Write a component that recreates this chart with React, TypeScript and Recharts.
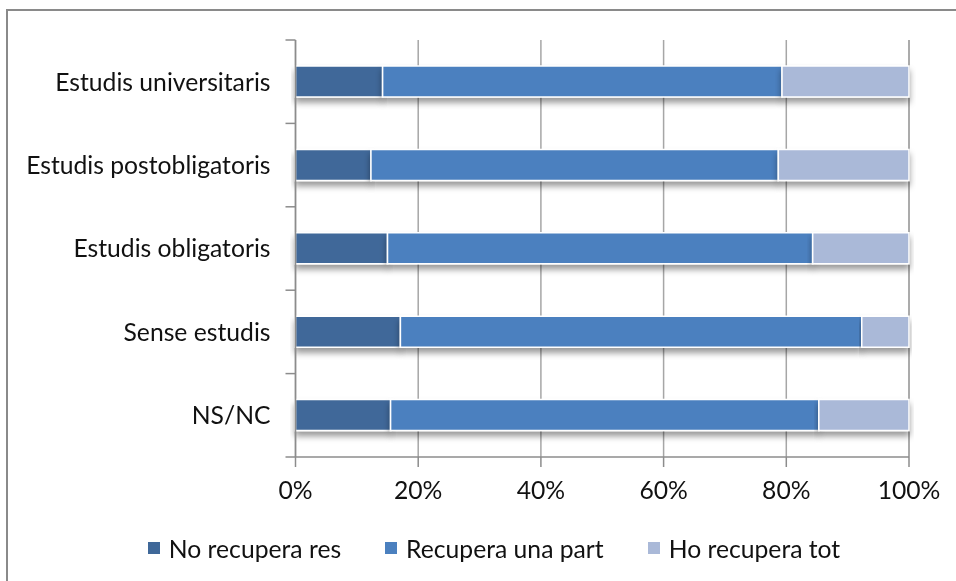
import React from "react";
import {
  BarChart,
  Bar,
  XAxis,
  YAxis,
  CartesianGrid,
  Legend,
} from "recharts";

const categories = [
  "Estudis universitaris",
  "Estudis postobligatoris",
  "Estudis obligatoris",
  "Sense estudis",
  "NS/NC",
];
const noRecuperaRes = [14.2, 12.3, 15.0, 17.1, 15.5];
const recuperaUnaPart = [65.1, 66.4, 69.3, 75.2, 69.8];
const hoRecuperaTot = [20.7, 21.3, 15.7, 7.7, 14.7];
const xTicks = [0, 20, 40, 60, 80, 100];

const seriesNames = ["No recupera res", "Recupera una part", "Ho recupera tot"];
const seriesColors = ["#3f6899", "#4b80bf", "#aab9d8"];

const data = categories.map((name, i) => ({
  name,
  noRes: noRecuperaRes[i],
  unaPart: recuperaUnaPart[i],
  tot: hoRecuperaTot[i],
}));

const FONT = "Lato, 'Noto Sans', sans-serif";
const FS = 24.7;
const AXIS = "#8c8c8c";
const MARGIN = { top: 32, right: 39, bottom: 5, left: 0 };
const CHART_W = 940;
const CHART_H = 565;
const X_AXIS_H = 71;
const LEGEND_H = 40;
const PLOT_H = CHART_H - MARGIN.top - MARGIN.bottom - X_AXIS_H - LEGEND_H;
const BAND = PLOT_H / categories.length;
const TICK_SIZE = 10;
const TICK_MARGIN = 15;

const YTick = (props: any) => {
  const { x, y, payload, index } = props;
  const axisX = x + TICK_SIZE + TICK_MARGIN;
  const isLast = index === categories.length - 1;
  return (
    <g>
      <line x1={axisX - TICK_SIZE} x2={axisX} y1={y - BAND / 2} y2={y - BAND / 2} stroke={AXIS} strokeWidth={1.5} />
      {isLast && (
        <line x1={axisX - TICK_SIZE} x2={axisX} y1={y + BAND / 2} y2={y + BAND / 2} stroke={AXIS} strokeWidth={1.5} />
      )}
      <text x={x} y={y} dy="0.36em" textAnchor="end" fill="#111" fontSize={FS} fontFamily={FONT}>
        {payload.value}
      </text>
    </g>
  );
};

const LegendContent = () => (
  <div
    style={{
      display: "flex",
      justifyContent: "center",
      alignItems: "center",
      height: LEGEND_H,
      paddingLeft: 71,
      fontFamily: FONT,
      fontSize: FS,
      color: "#111",
    }}
  >
    {seriesNames.map((n, i) => (
      <div key={n} style={{ display: "flex", alignItems: "center", marginRight: i < 2 ? 44 : 0 }}>
        <span style={{ display: "inline-block", width: 12, height: 12, background: seriesColors[i], marginRight: 9 }} />
        <span>{n}</span>
      </div>
    ))}
  </div>
);

export default function App() {
  return (
    <div style={{ position: "relative", width: 940, height: 565, background: "#fff" }}>
      <div style={{ position: "fixed", left: 6, top: 9, width: 2, height: 572, background: "#8a8a8a" }} />
      <div style={{ position: "fixed", left: 6, top: 9, width: 950, height: 2, background: "#8a8a8a" }} />
      <div style={{ position: "absolute", left: 0, top: 0 }}>
        <BarChart
          width={CHART_W}
          height={CHART_H}
          data={data}
          layout="vertical"
          margin={MARGIN}
          barSize={31}
        >
          <defs>
            <filter id="barShadow" x="-5%" y="-30%" width="110%" height="190%">
              <feDropShadow dx="0" dy="5" stdDeviation="3" floodColor="#000" floodOpacity="0.4" />
            </filter>
          </defs>
          <CartesianGrid horizontal={false} vertical stroke="#a6a6a6" strokeWidth={1.5} />
          <XAxis
            type="number"
            domain={[0, 100]}
            ticks={xTicks}
            tickFormatter={(v: number) => `${v}%`}
            height={X_AXIS_H}
            axisLine={{ stroke: AXIS, strokeWidth: 1.5 }}
            tickLine={{ stroke: AXIS, strokeWidth: 1.5 }}
            tickSize={10}
            tickMargin={14}
            tick={{ fill: "#111", fontSize: FS, fontFamily: FONT }}
            interval={0}
          />
          <YAxis
            type="category"
            dataKey="name"
            width={287.5}
            axisLine={{ stroke: AXIS, strokeWidth: 1.5 }}
            tickLine={false}
            tickSize={TICK_SIZE}
            tickMargin={TICK_MARGIN}
            tick={<YTick />}
            interval={0}
          />
          <Legend verticalAlign="bottom" height={LEGEND_H} content={<LegendContent />} />
          <Bar dataKey="noRes" name={seriesNames[0]} stackId="a" fill={seriesColors[0]} stroke="#fff" strokeWidth={1.5} filter="url(#barShadow)" isAnimationActive={false} />
          <Bar dataKey="unaPart" name={seriesNames[1]} stackId="a" fill={seriesColors[1]} stroke="#fff" strokeWidth={1.5} filter="url(#barShadow)" isAnimationActive={false} />
          <Bar dataKey="tot" name={seriesNames[2]} stackId="a" fill={seriesColors[2]} stroke="#fff" strokeWidth={1.5} filter="url(#barShadow)" isAnimationActive={false} />
        </BarChart>
      </div>
    </div>
  );
}
